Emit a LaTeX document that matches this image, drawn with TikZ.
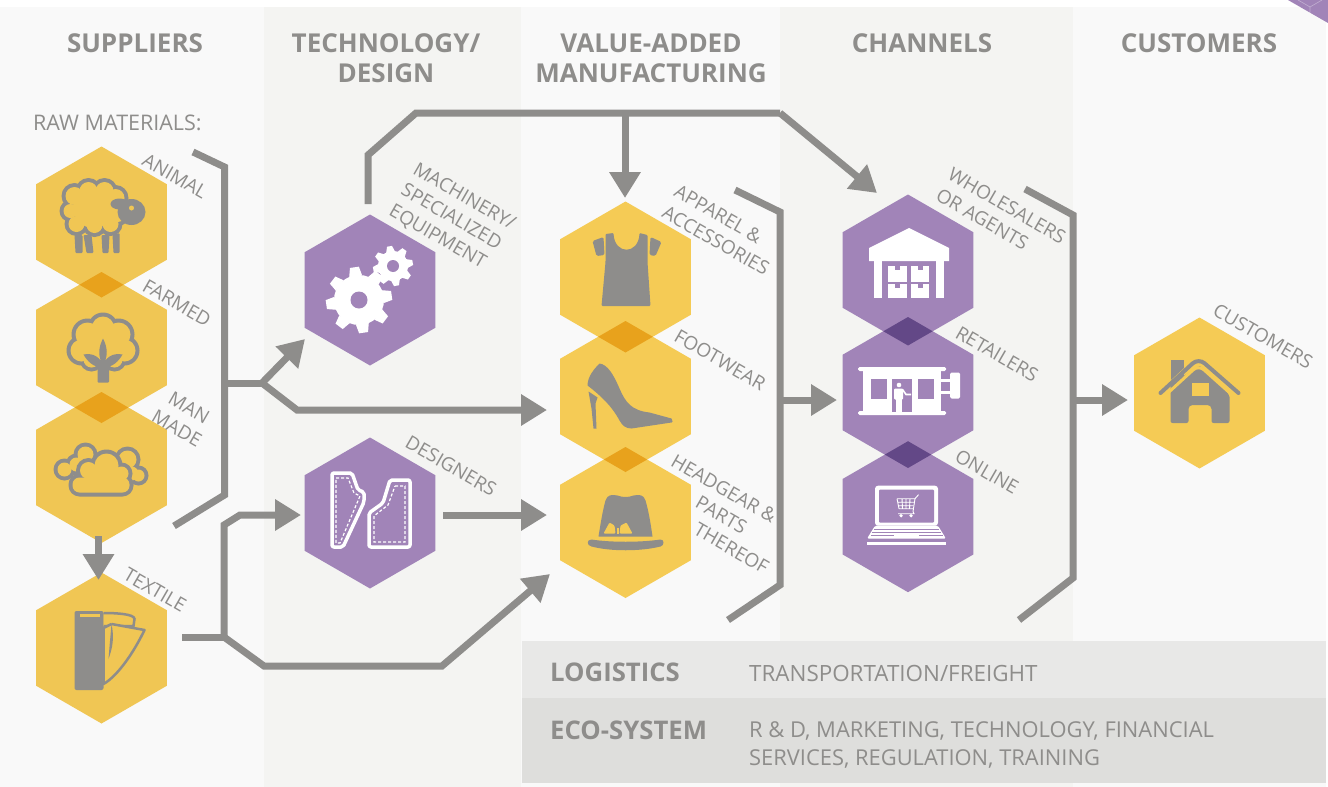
\documentclass[tikz,border=0pt]{standalone}
\usepackage{fontspec}
\setmainfont{Open Sans}
\usetikzlibrary{arrows.meta,shapes.geometric}
\definecolor{pa}{HTML}{F9F9F9}
\definecolor{pb}{HTML}{F4F4F2}
\definecolor{barA}{HTML}{E8E8E7}
\definecolor{barB}{HTML}{DEDEDC}
\definecolor{grayc}{HTML}{8E8D8B}
\definecolor{yelA}{HTML}{F0C654}
\definecolor{yelB}{HTML}{F5CB55}
\definecolor{yelD}{HTML}{E8A21C}
\definecolor{purA}{HTML}{A184B8}
\definecolor{purD}{HTML}{634887}
\newcommand{\hexp}[2]{(#1,#2-75.5) -- (#1+65.4,#2-37.75) -- (#1+65.4,#2+37.75) -- (#1,#2+75.5) -- (#1-65.4,#2+37.75) -- (#1-65.4,#2-37.75) -- cycle}
\newcommand{\ovl}[5]{\begin{scope}\clip \hexp{#1}{#2}; \fill[#5] \hexp{#3}{#4};\end{scope}}
\newcommand{\gearic}[7]{% x y outer body hole toothw offset
  \begin{scope}[shift={(#1,#2)}]
  \foreach \k in {0,...,7} {\fill[white,rotate=\k*45+#7] (-#6/2-1,-#4+1) -- (-#6/2+1,-#3) -- (#6/2-1,-#3) -- (#6/2+1,-#4+1) -- cycle;}
  \fill[white] (0,0) circle [radius=#4];
  \fill[purA] (0,0) circle [radius=#5];
  \end{scope}}
\tikzset{
  hexn/.style={regular polygon,regular polygon sides=6,shape border rotate=30,minimum size=151pt,inner sep=0pt,outer sep=0pt,draw=none},
  conn/.style={draw=grayc,line width=7pt,line join=miter},
  arr/.style={conn,-{Triangle[length=26pt,width=30pt]}},
  hdr/.style={text=grayc,font=\fontsize{26}{30}\selectfont\bfseries,align=center},
  lbl/.style={text=grayc,font=\fontsize{19}{24}\selectfont,rotate=-30,align=left,inner sep=0pt},
  bartxt/.style={text=grayc,align=left,anchor=west,inner sep=0pt},
  barhd/.style={text=grayc,font=\fontsize{25.7}{30}\selectfont\bfseries,anchor=west,inner sep=0pt},
  ic/.style={fill=grayc,draw=none},
}
\begin{document}
\begin{tikzpicture}[x=1pt,y=-1pt]
\useasboundingbox (0,0) rectangle (1328,787);
\fill[white] (0,0) rectangle (1328,787);
% panels
\fill[pa] (0,7) rectangle (264,787);
\fill[pb] (264,7) rectangle (521,787);
\fill[pa] (521,7) rectangle (780,787);
\fill[pb] (780,7) rectangle (1073,787);
\fill[pa] (1073,7) rectangle (1326,787);
\fill[barA] (522,641) rectangle (1326,698);
\fill[barB] (522,698) rectangle (1326,783);
% corner
\fill[purA] (1288,0) -- (1328,23) -- (1328,0) -- cycle;
\draw[white,opacity=.35,line width=.6pt] (1298,0) -- (1310,7) -- (1310,13) (1310,7) -- (1322,0);
% hexagons
\node[hexn,fill=yelA] (h1) at (101.5,222) {};
\node[hexn,fill=yelA] (h2) at (101.5,347.5) {};
\node[hexn,fill=yelA] (h3) at (101.5,467.5) {};
\node[hexn,fill=yelA] (h4) at (101.5,648) {};
\node[hexn,fill=purA] (g1) at (370,290) {};
\node[hexn,fill=purA] (g2) at (370,513) {};
\node[hexn,fill=yelB] (v1) at (625.5,277) {};
\node[hexn,fill=yelB] (v2) at (625.5,396.5) {};
\node[hexn,fill=yelB] (v3) at (625.5,522.5) {};
\node[hexn,fill=purA] (c1) at (908,270) {};
\node[hexn,fill=purA] (c2) at (908,392.5) {};
\node[hexn,fill=purA] (c3) at (908,516.7) {};
\node[hexn,fill=yelB] (k1) at (1199.5,393) {};
\ovl{101.5}{222}{101.5}{347.5}{yelD}
\ovl{101.5}{347.5}{101.5}{467.5}{yelD}
\ovl{625.5}{277}{625.5}{396.5}{yelD}
\ovl{625.5}{396.5}{625.5}{522.5}{yelD}
\ovl{908}{270}{908}{392.5}{purD}
\ovl{908}{392.5}{908}{516.7}{purD}
% sheep
\begin{scope}[shift={(101.5,222)}]
\foreach \a/\b/\r in {-27/-26/9,-13/-31/9,3/-31/9,14/-24/9,-31/-11/7,-25/2/8,-7/3/8,9/2/8,16/-9/9}{\fill[grayc] (\a,\b) circle [radius=\r+4];}
\foreach \a/\b/\r in {-27/-26/9,-13/-31/9,3/-31/9,14/-24/9,-31/-11/7,-25/2/8,-7/3/8,9/2/8,16/-9/9}{\fill[yelA] (\a,\b) circle [radius=\r];}
\fill[yelA] (-8,-14) circle [radius=20];
\fill[grayc] (30,-10) ellipse [x radius=14,y radius=13];
\fill[grayc] (18,-18) ellipse [x radius=9,y radius=5.5];
\fill[yelA] (30,-14) circle [radius=2.5];
\fill[ic,rounded corners=1pt] (-27,13) -- (-19,13) -- (-19,31) -- (-26,31) -- cycle;
\fill[ic,rounded corners=1pt] (-18,13) -- (-10,13) -- (-8,31) -- (-15,31) -- cycle;
\fill[ic,rounded corners=1pt] (0,13) -- (8,13) -- (7,31) -- (1,31) -- cycle;
\fill[ic,rounded corners=1pt] (11,13) -- (18,11) -- (18,31) -- (12,31) -- cycle;
\end{scope}
% cotton
\begin{scope}[shift={(101.5,347.5)}]
\foreach \a/\b/\r in {1.5/-20/11,-14/-13/12,17/-13/12,-20/3/11,23/3/11,-10/12/8,13/12/8}{\fill[grayc] (\a,\b) circle [radius=\r+4];}
\foreach \a/\b/\r in {1.5/-20/11,-14/-13/12,17/-13/12,-20/3/11,23/3/11,-10/12/8,13/12/8}{\fill[yelA] (\a,\b) circle [radius=\r];}
\fill[yelA] (1.5,-3) circle [radius=17];
\fill[ic] (1.5,-9) .. controls (6,0) and (7,8) .. (1.5,18) .. controls (-4,8) and (-3,0) .. (1.5,-9) -- cycle;
\fill[ic] (-18,7) .. controls (-8,5) and (0,10) .. (1.5,20) .. controls (-8,20) and (-14,14) .. (-18,7) -- cycle;
\fill[ic] (21,7) .. controls (11,5) and (3,10) .. (1.5,20) .. controls (11,20) and (17,14) .. (21,7) -- cycle;
\fill[ic,rounded corners=1pt] (-4,12) rectangle (7.5,35);
\end{scope}
% clouds
\begin{scope}[shift={(101.5,467.5)}]
\foreach \a/\b/\r in {-37/2/7,-16/-13/8,-25/-3/7,26/-8/9,37/8/6,30/6/7}{\fill[grayc] (\a,\b) circle [radius=\r+4];}
\foreach \a/\b/\r in {-37/2/7,-16/-13/8,-25/-3/7,26/-8/9,37/8/6,30/6/7}{\fill[yelA] (\a,\b) circle [radius=\r];}
\foreach \a/\b/\r in {-13/3/8.5,5/-2/12,20/6/7}{\fill[grayc] (\a,\b) circle [radius=\r+4];}
\fill[grayc,rounded corners=11pt] (-33,6) rectangle (32,29);
\foreach \a/\b/\r in {-13/3/8.5,5/-2/12,20/6/7}{\fill[yelA] (\a,\b) circle [radius=\r];}
\fill[yelA] (-14,0) rectangle (20,12);
\fill[yelA,rounded corners=7pt] (-29,10) rectangle (28,25);
\end{scope}
% textile
\begin{scope}[shift={(101.5,648)}]
\fill[ic,rounded corners=2pt] (-27,-37) rectangle (2,42);
\fill[yelA] (-22,-34) rectangle (-2,-31.5);
\draw[grayc,line width=2.5pt,fill=yelA] (2,-35) .. controls (15,-35) and (33,-34) .. (33,-29) -- (32,-22) -- (2,-22);
\draw[grayc,line width=2.5pt,fill=yelA,line join=round] (10,-24) -- (43,-18) .. controls (32,5) and (16,28) .. (2,36) -- (2,-20) -- (10,-24);
\fill[ic] (10,-24) .. controls (13,-10) and (11,0) .. (7,11) .. controls (8,-2) and (9,-12) .. (10,-24) -- cycle;
\end{scope}
% gears
\begin{scope}[shift={(370,290)}]
\gearic{-11}{10}{33}{25}{8.5}{11}{8}
\gearic{23}{-24}{20}{15}{6}{7}{10}
\end{scope}
% patterns
\begin{scope}[shift={(370,513)}]
\draw[white,line width=3.5pt,rounded corners=2pt,line join=round] (-38,-40) -- (-18,-40) -- (-12,-23) -- (-6,-21) -- (-6,-11) -- (-27,34) -- (-38,34) -- cycle;
\draw[white,line width=1.2pt,densely dashed] (-34,-35) -- (-22,-35) -- (-16,-20) -- (-10,-17) -- (-30,30) -- (-34,30) -- cycle;
\draw[white,line width=3.5pt,rounded corners=2pt,line join=round] (20,-33) -- (40,-33) -- (40,34) -- (-1,34) -- (-1,0) -- (13,-10) -- cycle;
\draw[white,line width=1.2pt,densely dashed] (25,-27) -- (35,-27) -- (35,29) -- (4,29) -- (4,3) -- (18,-8) -- cycle;
\end{scope}
% shirt
\begin{scope}[shift={(625.5,277)}]
\fill[ic,rounded corners=1pt] (-20,-43) -- (-12,-44) .. controls (-11,-22) and (13,-22) .. (14,-44) -- (22,-42) -- (22,-15) -- (25,29) -- (-24,29) -- (-20,-15) -- cycle;
\fill[ic,rounded corners=1.5pt] (-33,-36) -- (-22,-40) -- (-21,-22) -- (-29,-21) -- cycle;
\fill[ic,rounded corners=1.5pt] (25,-40) -- (36,-35) -- (30,-21) -- (24,-22) -- cycle;
\end{scope}
% shoe
\begin{scope}[shift={(625.5,396.5)}]
\fill[ic] (-38,-11) .. controls (-38,-20) and (-31,-28) .. (-26,-33) .. controls (-18,-32) and (-12,-22) .. (-6,-8) .. controls (0,6) and (6,14) .. (24,16) -- (46,22) -- (47,25) -- (46,26) -- (6,32) .. controls (0,32) and (-3,29) .. (-6,24) .. controls (-14,9) and (-25,-1) .. (-38,-11) -- cycle;
\fill[ic] (-37,-5) -- (-28,1) -- (-30,7) -- (-29,32) -- (-32,32) -- (-34,12) -- cycle;
\end{scope}
% hat
\begin{scope}[shift={(625.5,522.5)}]
\fill[ic] (-27,14) .. controls (-24,-5) and (-22,-15) .. (-20,-22) .. controls (-18,-28) and (-14,-28) .. (-8,-27) .. controls (-3,-25) and (3,-25) .. (8,-27) .. controls (14,-28) and (18,-28) .. (20,-22) .. controls (23,-12) and (25,0) .. (27,14) -- cycle;
\fill[ic] (-34,17) .. controls (-15,20) and (15,20) .. (35,17) .. controls (39,17) and (39,23) .. (35,24) .. controls (15,29) and (-15,29) .. (-34,24) .. controls (-39,23) and (-39,17) .. (-34,17) -- cycle;
\fill[yelB,rounded corners=1pt] (-22,11) -- (-16,0) -- (-11,3) -- (-10,11) -- cycle;
\fill[yelB,rounded corners=1pt] (-6,11) -- (-5,3) -- (1,0) -- (7,11) -- cycle;
\fill[yelB] (-9,5) rectangle (-7,11);
\end{scope}
% warehouse
\begin{scope}[shift={(908,270)}]
\fill[white] (-39,-22) -- (1,-42) -- (41,-22) -- (41,-9) -- (-39,-9) -- cycle;
\fill[white] (-34,-9) rectangle (-26,28);
\fill[white] (28,-9) rectangle (36,28);
\foreach \a/\b/\c/\d in {-20/-4/-1/12,3/-4/21/12,-20/14/-1/28,3/14/21/28}{
 \fill[white] (\a,\b) rectangle (\c,\d);
 \fill[purA] ({(\a+\c)/2-2.5},\b) rectangle ({(\a+\c)/2+2.5},\b+4);}
\end{scope}
% retail
\begin{scope}[shift={(908,392.5)}]
\fill[white,rounded corners=1.5pt] (-50,-25.5) rectangle (38,-21.5);
\fill[white,rounded corners=1.5pt] (-50,18.5) rectangle (38,22.5);
\fill[white] (-45,-22) rectangle (33,19);
\fill[purA] (-37,-14) rectangle (-21,6);
\fill[purA] (-16,-14) rectangle (4,19);
\fill[purA] (10,-14) rectangle (26,6);
\fill[white] (33,-14) rectangle (42,-11);
\fill[white] (33,-2) rectangle (42,1);
\fill[white,rounded corners=1.5pt] (42,-20) rectangle (52,6);
\fill[white] (-9,-7.5) circle [radius=2.3];
\fill[white,rounded corners=1pt] (-14,-4) rectangle (-5,7);
\fill[white] (-12,6) rectangle (-6.5,19);
\draw[white,line width=1.6pt] (-5.5,-3) -- (-2,2) -- (3,2);
\end{scope}
% laptop
\begin{scope}[shift={(908,516.7)}]
\fill[white,rounded corners=3pt] (-33,-31) rectangle (30,9);
\fill[purA,rounded corners=1pt] (-29,-27) rectangle (26,6);
\fill[white,rounded corners=1.5pt] (-33,9) -- (30,9) -- (38,22) -- (-41,22) -- cycle;
\draw[purA,line width=.9pt] (-34,12.5) -- (31,12.5) (-36,16) -- (33,16);
\draw[purA,line width=.9pt] (-37,19) -- (-14,19) (11,19) -- (35,19);
\fill[white] (-41,25.5) rectangle (38,28);
\draw[white,line width=.9pt] (10.5,-22) -- (7,-18) -- (5,-5) -- (6,-3) -- (-10,-3);
\draw[white,line width=.9pt] (-11,-18) -- (7,-18) (-10,-14.5) -- (6,-14.5) (-9.5,-11) -- (5.5,-11) (-9,-8) -- (5,-8) (-11,-18) -- (-9,-8) (-6,-18) -- (-5.5,-8) (-2,-18) -- (-2,-8) (2,-18) -- (1.5,-8);
\fill[white] (-7,-1) circle [radius=1.8] (3,-1) circle [radius=1.8];
\end{scope}
% house
\begin{scope}[shift={(1199.5,393)}]
\fill[ic] (-29,-33) rectangle (-16,-12);
\fill[ic,rounded corners=2pt] (-29,-8) -- (-1,-27) -- (1,-27) -- (30,2) -- (30,30) -- (12,30) -- (12,14) -- (10,12) -- (-9,12) -- (-11,14) -- (-11,30) -- (-29,30) -- cycle;
\draw[yelB,line width=3pt,rounded corners=7pt] (-36,-4) -- (-1,-36) -- (36,-3) (-36,4) -- (-1,-28) -- (36,5);
\draw[grayc,line width=4pt,line cap=round,line join=round,rounded corners=8pt] (-39,0) -- (-1,-35) -- (39,0);
\fill[yelB] (-8,-10) rectangle (9,3);
\end{scope}
% connector coordinates
\coordinate (a1) at (193,152);
\coordinate (a2) at (224.5,167);
\coordinate (a3) at (224.5,495);
\coordinate (a4) at (174,526);
\coordinate (b0) at (224.5,383);
\coordinate (b1) at (262,383);
\coordinate (b2) at (305,339);
\coordinate (b3) at (297,410);
\coordinate (b4) at (547,410);
\coordinate (t1) at (368,204);
\coordinate (t2) at (368,155);
\coordinate (t3) at (416,113);
\coordinate (t4) at (780,113);
\coordinate (t5) at (877,193);
\coordinate (t6) at (625,113);
\coordinate (t7) at (625,198);
\coordinate (d1) at (98.5,536);
\coordinate (d2) at (98.5,580);
\coordinate (x1) at (182,637);
\coordinate (x2) at (224,637);
\coordinate (x3) at (224,525);
\coordinate (x4) at (240,515);
\coordinate (x5) at (301,515);
\coordinate (x6) at (264,666);
\coordinate (x7) at (442,666);
\coordinate (x8) at (550,574);
\coordinate (y1) at (443,515);
\coordinate (y2) at (547,515);
\coordinate (m1) at (735,190);
\coordinate (m2) at (780,212);
\coordinate (m3) at (780,585);
\coordinate (m4) at (728,620);
\coordinate (m5) at (780,400);
\coordinate (m6) at (837,400);
\coordinate (n1) at (1025,189);
\coordinate (n2) at (1073,215);
\coordinate (n3) at (1073,578);
\coordinate (n4) at (1019,620);
\coordinate (n5) at (1073,400);
\coordinate (n6) at (1128,400);
\draw[conn] (a1) -- (a2) -- (a3) -- (a4);
\draw[conn] (b0) -- (b1);
\draw[arr] (b1) -- (b2);
\draw[arr] (b1) -- (b3) -- (b4);
\draw[conn] (t1) -- (t2) -- (t3) -- (t4);
\draw[arr] (t4) -- (t5);
\draw[arr] (t6) -- (t7);
\draw[arr] (d1) -- (d2);
\draw[conn] (x1) -- (x2);
\draw[arr] (x2) -- (x3) -- (x4) -- (x5);
\draw[arr] (x2) -- (x6) -- (x7) -- (x8);
\draw[arr] (y1) -- (y2);
\draw[conn] (m1) -- (m2) -- (m3) -- (m4);
\draw[arr] (m5) -- (m6);
\draw[conn] (n1) -- (n2) -- (n3) -- (n4);
\draw[arr] (n5) -- (n6);
% headers
\node[hdr] (s1) at (135,43.5) {SUPPLIERS};
\node[hdr] (s2) at (386,58) {TECHNOLOGY/\\DESIGN};
\node[hdr] (s3) at (651,58) {VALUE-ADDED\\MANUFACTURING};
\node[hdr] (s4) at (922,43.5) {CHANNELS};
\node[hdr] (s5) at (1199,43.5) {CUSTOMERS};
\node[text=grayc,font=\fontsize{21.5}{24}\selectfont,anchor=west,inner sep=0pt] (raw) at (33,122.5) {RAW MATERIALS:};
% labels
\node[lbl] (l1) at (175,176) {ANIMAL};
\node[lbl] (l2) at (177,303) {FARMED};
\node[lbl,align=center] (l3) at (183,418) {MAN\\MADE};
\node[lbl] (l4) at (155,590) {TEXTILE};
\node[lbl] (l5) at (452,218) {MACHINERY/\\SPECIALIZED\\EQUIPMENT};
\node[lbl] (l6) at (451,466) {DESIGNERS};
\node[lbl] (l7) at (722,230) {APPAREL \&\\ACCESSORIES};
\node[lbl] (l8) at (720,360) {FOOTWEAR};
\node[lbl] (l9) at (720,514) {HEADGEAR \&\\\hspace*{42pt}PARTS\\\hspace*{54pt}THEREOF};
\node[lbl] (l10) at (1001,216) {WHOLESALERS\\OR AGENTS};
\node[lbl] (l11) at (997,354) {RETAILERS};
\node[lbl] (l12) at (987,472) {ONLINE};
\node[lbl] (l13) at (1263,336) {CUSTOMERS};
% bars
\node[barhd] (bh1) at (550,672) {LOGISTICS};
\node[bartxt,font=\fontsize{22.4}{28}\selectfont] (bt1) at (749,673.5) {TRANSPORTATION/FREIGHT};
\node[barhd] (bh2) at (550,730) {ECO-SYSTEM};
\node[bartxt,font=\fontsize{21.9}{28}\selectfont] (bt2) at (749,745) {R \& D, MARKETING, TECHNOLOGY, FINANCIAL\\SERVICES, REGULATION, TRAINING};
\end{tikzpicture}
\end{document}
